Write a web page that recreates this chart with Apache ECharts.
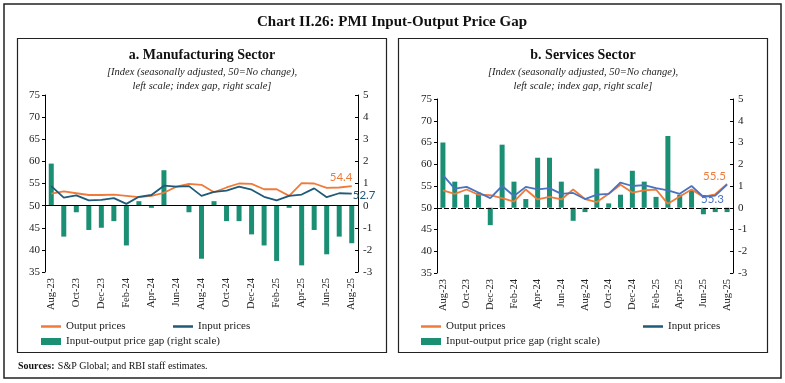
<!DOCTYPE html>
<html><head><meta charset="utf-8">
<script src="https://cdn.jsdelivr.net/npm/echarts@6/dist/echarts.min.js"></script>
<style>html,body{margin:0;padding:0;background:#fff}#c{width:785px;height:383px}</style>
</head><body><div id="c"></div>
<script>
const categories = ['Aug-23','Sep-23','Oct-23','Nov-23','Dec-23','Jan-24','Feb-24','Mar-24','Apr-24','May-24','Jun-24','Jul-24','Aug-24','Sep-24','Oct-24','Nov-24','Dec-24','Jan-25','Feb-25','Mar-25','Apr-25','May-25','Jun-25','Jul-25','Aug-25'];
const mfgOutput = [52.7,53.2,52.8,52.4,52.4,52.5,52.2,51.9,52.2,52.9,54.3,54.9,54.7,53.0,54.1,55.0,54.9,53.7,53.7,52.2,55.1,55.0,54.0,54.1,54.4];
const mfgInput  = [54.4,51.8,52.3,51.2,51.3,51.7,50.4,52.0,52.4,54.5,54.3,54.4,52.2,53.1,53.4,54.3,53.6,52.0,51.2,52.2,52.5,53.9,51.9,52.8,52.7];
const mfgGap    = [1.9,-1.4,-0.3,-1.1,-1.0,-0.7,-1.8,0.2,-0.1,1.6,0,-0.3,-2.4,0.2,-0.7,-0.7,-1.3,-1.8,-2.5,-0.1,-2.7,-1.1,-2.2,-1.4,-1.7];
const svcOutput = [54.0,53.2,54.2,53.0,52.9,52.2,51.4,54.2,51.9,52.5,51.9,54.2,52.0,51.3,53.2,55.3,53.5,54.0,54.2,50.9,52.6,54.2,52.5,53.1,55.5];
const svcInput  = [57.5,54.4,54.8,53.5,52.2,55.0,52.7,54.8,54.2,54.5,53.2,53.4,52.0,53.0,53.2,55.8,55.0,55.2,54.5,54.0,53.2,55.0,52.5,52.8,55.3];
const svcGap    = [3.0,1.2,0.6,0.7,-0.8,2.9,1.2,0.4,2.3,2.3,1.2,-0.6,-0.2,1.8,0.2,0.6,1.7,1.2,0.5,3.3,0.6,0.8,-0.3,-0.2,-0.2];

const ORANGE = '#F07A3A', NAVY = '#1F5A78', BLUE = '#4A72C0', GREEN = '#1A8F74';
const SERIF = '"Liberation Serif", "DejaVu Serif", serif';
const SANS = 'Lato, "Open Sans", sans-serif';

const chart = echarts.init(document.getElementById('c'), null, {renderer: 'canvas'});

function xAxis(g) {
  return {type: 'category', gridIndex: g, data: categories, boundaryGap: true,
    axisLine: {show: false}, axisTick: {show: false},
    axisLabel: {rotate: 90, interval: 1, fontFamily: SERIF, fontSize: 10.5, color: '#222', margin: 6}};
}
function yLeft(g) {
  return {type: 'value', gridIndex: g, min: 35, max: 75, interval: 5, position: 'left',
    axisLine: {show: true, lineStyle: {color: '#000', width: 1}}, axisTick: {show: true, length: 3, lineStyle: {color: '#000'}},
    splitLine: {show: false}, axisLabel: {fontFamily: SERIF, fontSize: 11, color: '#222', margin: 5}};
}
function yRight(g) {
  return {type: 'value', gridIndex: g, min: -3, max: 5, interval: 1, position: 'right',
    axisLine: {show: true, lineStyle: {color: '#000', width: 1}}, axisTick: {show: true, inside: true, length: 3, lineStyle: {color: '#000'}},
    splitLine: {show: false}, axisLabel: {fontFamily: SERIF, fontSize: 11, color: '#222', margin: 5}};
}

const legendText = {fontFamily: SERIF, fontSize: 11, color: '#222'};
function lgLine(left, top, name, color) {
  return {left: left, top: top, itemWidth: 20, itemHeight: 2.5, itemGap: 4, textStyle: legendText, selectedMode: false,
    data: [{name: name, icon: 'rect', itemStyle: {color: color}}]};
}
function lgBar(left, top, name) {
  return {left: left, top: top, itemWidth: 20, itemHeight: 7, itemGap: 4, textStyle: legendText, selectedMode: false,
    data: [{name: name, icon: 'rect', itemStyle: {color: GREEN}}]};
}
function endLbl(color, offset) {
  return {show: true, formatter: p => p.value, color: color, fontFamily: SANS, fontSize: 11.5, distance: 0, offset: offset};
}

const option = {
  animation: false,
  backgroundColor: '#fff',
  graphic: [
    {type: 'rect', shape: {x: 4, y: 4, width: 777, height: 374}, style: {fill: 'none', stroke: '#222', lineWidth: 1.5}},
    {type: 'rect', shape: {x: 17.5, y: 38.5, width: 369, height: 314}, style: {fill: 'none', stroke: '#222', lineWidth: 1.2}},
    {type: 'rect', shape: {x: 398.5, y: 38.5, width: 369, height: 314}, style: {fill: 'none', stroke: '#222', lineWidth: 1.2}},
    {type: 'text', x: 392, y: 22, style: {text: 'Chart II.26: PMI Input-Output Price Gap', font: 'bold 15px ' + SERIF, fill: '#111', align: 'center', verticalAlign: 'middle'}},
    {type: 'text', x: 202, y: 55, style: {text: 'a. Manufacturing Sector', font: 'bold 14px ' + SERIF, fill: '#111', align: 'center', verticalAlign: 'middle'}},
    {type: 'text', x: 202, y: 72, style: {text: '[Index (seasonally adjusted, 50=No change),', font: 'italic 10.5px ' + SERIF, fill: '#222', align: 'center', verticalAlign: 'middle'}},
    {type: 'text', x: 202, y: 86, style: {text: 'left scale; index gap, right scale]', font: 'italic 10.5px ' + SERIF, fill: '#222', align: 'center', verticalAlign: 'middle'}},
    {type: 'text', x: 583, y: 55, style: {text: 'b. Services Sector', font: 'bold 14px ' + SERIF, fill: '#111', align: 'center', verticalAlign: 'middle'}},
    {type: 'text', x: 583, y: 72, style: {text: '[Index (seasonally adjusted, 50=No change),', font: 'italic 10.5px ' + SERIF, fill: '#222', align: 'center', verticalAlign: 'middle'}},
    {type: 'text', x: 583, y: 86, style: {text: 'left scale; index gap, right scale]', font: 'italic 10.5px ' + SERIF, fill: '#222', align: 'center', verticalAlign: 'middle'}},
    {type: 'text', x: 18, y: 366, style: {rich: {b: {font: 'bold 10px ' + SERIF, fill: '#111'}, n: {font: '10px ' + SERIF, fill: '#111'}}, text: '{b|Sources:} {n|S&P Global; and RBI staff estimates.}', verticalAlign: 'middle'}}
  ],
  grid: [
    {left: 45, top: 95, width: 313, height: 177},
    {left: 437, top: 99, width: 296, height: 174}
  ],
  xAxis: [xAxis(0), xAxis(1)],
  yAxis: [yLeft(0), yRight(0), yLeft(1), yRight(1)],
  legend: [
    lgLine(36, 316, 'Output prices', ORANGE),
    lgLine(168, 316, 'Input prices', NAVY),
    lgBar(36, 331, 'Input-output price gap (right scale)'),
    lgLine(416, 316, 'Output prices', ORANGE),
    lgLine(638, 316, 'Input prices', NAVY),
    lgBar(416, 331, 'Input-output price gap (right scale)')
  ],
  series: [
    {name: 'Input-output price gap (right scale)', type: 'bar', xAxisIndex: 0, yAxisIndex: 1, data: mfgGap, barWidth: 5, itemStyle: {color: GREEN}, z: 1,
      markLine: {silent: true, symbol: 'none', label: {show: false}, lineStyle: {color: '#000', type: 'solid', width: 1.2}, data: [{yAxis: 0}]}},
    {name: 'Output prices', type: 'line', xAxisIndex: 0, yAxisIndex: 0, data: mfgOutput, symbol: 'none', lineStyle: {color: ORANGE, width: 1.8}, itemStyle: {color: ORANGE}, z: 3,
      endLabel: endLbl(ORANGE, [-22, -9])},
    {name: 'Input prices', type: 'line', xAxisIndex: 0, yAxisIndex: 0, data: mfgInput, symbol: 'none', lineStyle: {color: NAVY, width: 1.8}, itemStyle: {color: NAVY}, z: 3,
      endLabel: endLbl(NAVY, [1, 2])},
    {name: 'Input-output price gap (right scale)', type: 'bar', xAxisIndex: 1, yAxisIndex: 3, data: svcGap, barWidth: 5, itemStyle: {color: GREEN}, z: 1,
      markLine: {silent: true, symbol: 'none', label: {show: false}, lineStyle: {color: '#000', type: [5, 2], width: 1.2}, data: [{yAxis: 0}]}},
    {name: 'Output prices', type: 'line', xAxisIndex: 1, yAxisIndex: 2, data: svcOutput, symbol: 'none', lineStyle: {color: ORANGE, width: 1.8}, itemStyle: {color: ORANGE}, z: 3,
      endLabel: endLbl(ORANGE, [-24, -8])},
    {name: 'Input prices ', type: 'line', xAxisIndex: 1, yAxisIndex: 2, data: svcInput, symbol: 'none', lineStyle: {color: BLUE, width: 1.8}, itemStyle: {color: BLUE}, z: 3,
      endLabel: endLbl(BLUE, [-26, 15])}
  ]
};
chart.setOption(option);
</script>
</body></html>
